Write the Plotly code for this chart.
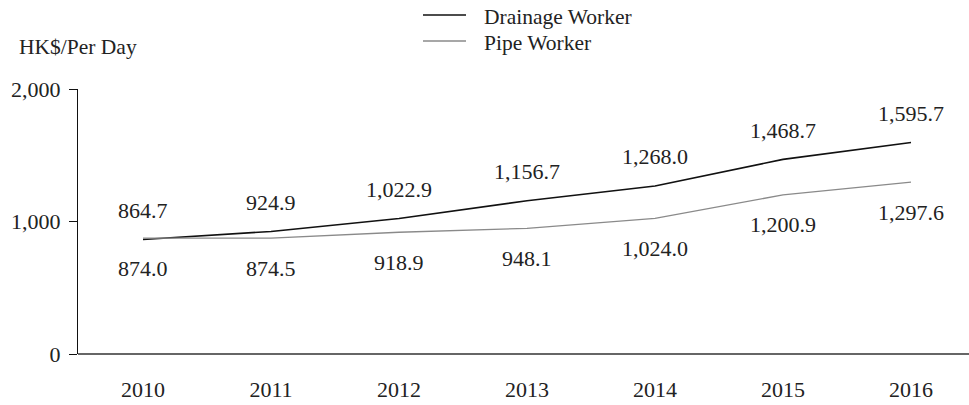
import plotly.graph_objects as go

years = [2010, 2011, 2012, 2013, 2014, 2015, 2016]
drainage = [864.7, 924.9, 1022.9, 1156.7, 1268.0, 1468.7, 1595.7]
pipe = [874.0, 874.5, 918.9, 948.1, 1024.0, 1200.9, 1297.6]
y_ticks = [0, 1000, 2000]
series_names = ["Drainage Worker", "Pipe Worker"]
series_colors = ["#111111", "#8a8a8a"]

FONT = "Liberation Serif, Times New Roman, DejaVu Serif, serif"
TXT = "#222"

W, H = 969, 405
PL, PT, PW, PH = 78, 89, 891, 265


def px(xf):
    return (xf - PL) / PW


def py(yf):
    return (PT + PH - yf) / PH


fig = go.Figure()
fig.add_trace(go.Scatter(x=years, y=drainage, mode="lines", name=series_names[0],
                         line=dict(color=series_colors[0], width=1.6), showlegend=False))
fig.add_trace(go.Scatter(x=years, y=pipe, mode="lines", name=series_names[1],
                         line=dict(color=series_colors[1], width=1.3), showlegend=False))

annotations = []
for x, v in zip(years, drainage):
    annotations.append(dict(x=x, y=v, text=f"{v:,.1f}", showarrow=False, yshift=29,
                            font=dict(family=FONT, size=22, color=TXT)))
for x, v in zip(years, pipe):
    annotations.append(dict(x=x, y=v, text=f"{v:,.1f}", showarrow=False, yshift=-30,
                            font=dict(family=FONT, size=22, color=TXT)))
annotations.append(dict(xref="paper", yref="paper", x=px(17), y=py(47),
                        xanchor="left", yanchor="middle", text="HK$/Per Day", showarrow=False,
                        font=dict(family=FONT, size=21.5, color=TXT)))

# manual legend
shapes = []
for i, (name, col) in enumerate(zip(series_names, series_colors)):
    ly = 15 + 26 * i
    shapes.append(dict(type="line", xref="paper", yref="paper", x0=px(423), x1=px(466),
                       y0=py(ly), y1=py(ly), line=dict(color=col, width=1.4)))
    annotations.append(dict(xref="paper", yref="paper", x=px(482), y=py(ly + 2),
                            xanchor="left", yanchor="middle", text=name, showarrow=False,
                            font=dict(family=FONT, size=21.5, color=TXT)))

fig.update_layout(
    width=W, height=H,
    margin=dict(l=PL, r=W - PL - PW, t=PT, b=H - PT - PH, autoexpand=False),
    paper_bgcolor="white", plot_bgcolor="white",
    font=dict(family=FONT, size=22, color=TXT),
    showlegend=False,
    annotations=annotations,
    shapes=shapes,
)
fig.update_xaxes(range=[2009.492, 2016.453], tickvals=years, ticktext=[str(y) for y in years],
                 showgrid=False, zeroline=False, showline=False, ticks="",
                 ticklabelstandoff=20, tickfont=dict(family=FONT, size=22, color=TXT))
fig.update_yaxes(range=[0, 2000], tickvals=y_ticks, tickformat=",", showgrid=False,
                 zeroline=True, zerolinecolor="#666", zerolinewidth=1.5,
                 showline=True, linecolor="#111", linewidth=1.3,
                 ticks="outside", ticklen=8, tickcolor="#111", tickwidth=1.3,
                 ticklabelstandoff=4, tickfont=dict(family=FONT, size=22, color=TXT))

fig.write_html("out.html", config={"displayModeBar": False},
               post_script="document.body.style.margin='0';document.body.style.padding='0';")
